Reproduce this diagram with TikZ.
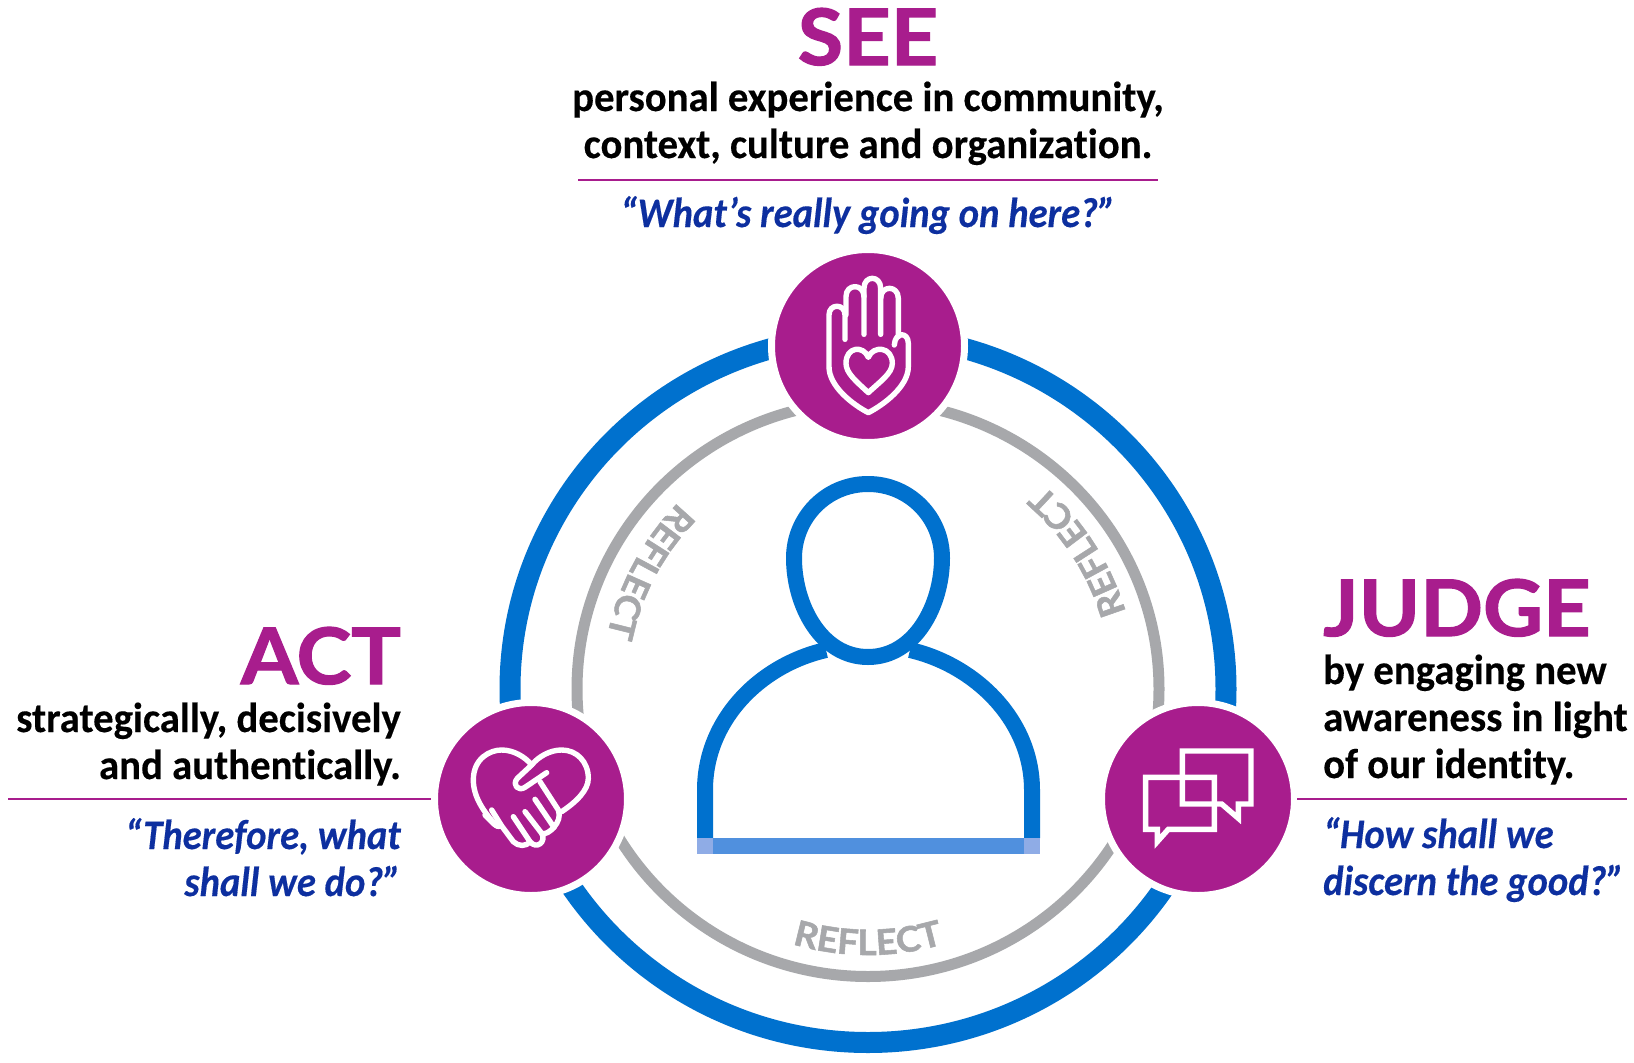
\documentclass[tikz,border=0pt]{standalone}
\usepackage{fontspec}
\setmainfont[Ligatures={TeX,NoCommon}]{Carlito}
\newfontfamily\titlefont[BoldFeatures={FakeBold=1.5, FakeStretch=1.06}]{Lato}
\newfontfamily\bodyfont[FakeStretch=0.97, BoldFeatures={FakeBold=0.3}, Ligatures={TeX,NoCommon}]{Carlito}
\newfontfamily\quotefont[FakeStretch=0.92, BoldItalicFeatures={FakeBold=0.3}, Ligatures={TeX,NoCommon}]{Carlito}
\usetikzlibrary{positioning, calc, decorations.text}
\definecolor{cjpurple}{RGB}{168, 29, 141}
\definecolor{cjblue}{RGB}{0, 113, 206}
\definecolor{cjbar}{RGB}{80, 144, 222}
\definecolor{cjcorner}{RGB}{143, 172, 230}
\definecolor{cjgrey}{RGB}{167, 168, 171}
\definecolor{cjquote}{RGB}{13, 47, 159}
\newcommand{\reflectfont}{\titlefont\fontsize{35}{35}\selectfont\bfseries\color{cjgrey}}

\begin{document}
\begin{tikzpicture}[x=1pt, y=-1pt,
    title/.style={font=\titlefont\bfseries\fontsize{78}{78}\selectfont, text=cjpurple, inner sep=0pt},
    body/.style={font=\bodyfont\bfseries\fontsize{42}{47}\selectfont, text=black, inner sep=0pt},
    quote/.style={font=\quotefont\bfseries\itshape\fontsize{42}{47}\selectfont, text=cjquote, inner sep=0pt},
    rule/.style={cjpurple, line width=1.8},
    badge/.style={circle, fill=cjpurple, draw=white, line width=7, minimum size=193, inner sep=0pt},
    icon/.style={white, line width=5.4, line join=round, line cap=round},
]
\useasboundingbox (0,0) rectangle (1634,1063);
\fill[white] (0,0) rectangle (1634,1063);
\coordinate (centre) at (868,689);

% rings
\draw[cjblue, line width=21] (centre) ellipse [x radius=358, y radius=353.5];
\draw[cjgrey, line width=11] (centre) ellipse [x radius=291, y radius=287.5];
\path[decorate, decoration={text along path, text align=center, text={|\reflectfont|REFLECT}}]
    (centre) ++(-122:266) arc[start angle=-122, end angle=-182, radius=266];
\path[decorate, decoration={text along path, text align=center, text={|\reflectfont|REFLECT}}]
    (centre) ++(-3:269) arc[start angle=-3, end angle=-63, radius=269];
\path[decorate, decoration={text along path, text align=center, text={|\reflectfont|REFLECT}}]
    (centre) ++(120:266) arc[start angle=120, end angle=60, radius=266];

% person
\draw[cjblue, line width=16] (705,838) -- (705,790) .. controls (705,720) and (760,665) .. (826,650);
\draw[cjblue, line width=16] (1032,838) -- (1032,790) .. controls (1032,720) and (975,665) .. (910,650);
\draw[cjblue, line width=16] (868,484) .. controls (910,484) and (942,518) .. (942,558)
    .. controls (942,605) and (915,657) .. (868,657)
    .. controls (821,657) and (794,605) .. (794,558)
    .. controls (794,518) and (826,484) .. (868,484) -- cycle;
\fill[cjbar] (697,838) rectangle (1040,854);
\fill[cjcorner] (697,838) rectangle (713,854);
\fill[cjcorner] (1024,838) rectangle (1040,854);

% badges
\node[badge] (seebadge) at (868,346) {};
\node[badge] (actbadge) at (531,799) {};
\node[badge] (judgebadge) at (1198,799) {};

% hand
\begin{scope}[shift={(760,240)}, x=0.3333pt, y=-0.3333pt]
\draw[icon] (255,298) -- (255,225) .. controls (255,190) and (207,190) .. (207,225) -- (207,380)
    .. controls (207,440) and (280,495) .. (325,518)
    .. controls (370,495) and (445,440) .. (445,380) -- (445,310)
    .. controls (445,275) and (405,275) .. (403,315);
\draw[icon] (258,225) -- (258,170) .. controls (258,130) and (312,130) .. (312,170) -- (312,283);
\draw[icon] (312,170) -- (312,145) .. controls (312,105) and (362,105) .. (362,145) -- (362,283);
\draw[icon] (362,175) .. controls (362,135) and (415,135) .. (415,175) -- (415,290);
\draw[icon] (325,458) .. controls (290,425) and (258,400) .. (258,370)
    .. controls (258,320) and (310,315) .. (325,352)
    .. controls (340,315) and (397,320) .. (397,370)
    .. controls (397,400) and (360,425) .. (325,458) -- cycle;
\end{scope}

% handshake
\begin{scope}[shift={(430,700)}, x=0.3333pt, y=-0.3333pt]
\draw[icon] (200,378) .. controls (160,335) and (130,290) .. (130,240)
    .. controls (130,175) and (180,150) .. (215,150)
    .. controls (250,150) and (285,170) .. (305,195)
    .. controls (325,170) and (360,150) .. (395,150)
    .. controls (440,150) and (475,185) .. (475,235)
    .. controls (475,270) and (440,305) .. (395,335);
\draw[icon] (305,195) -- (262,235) .. controls (245,255) and (265,275) .. (285,262) -- (350,218);
\draw[icon] (330,245) -- (385,330) .. controls (392,350) and (385,365) .. (372,382) .. controls (360,395) and (345,405) .. (335,400);
\draw[icon] (315,298) -- (372,382);
\draw[icon] (285,335) -- (335,400) .. controls (350,425) and (320,450) .. (300,425);
\draw[icon] (250,350) -- (300,425) .. controls (290,440) and (265,440) .. (250,425) -- (215,378);
\draw[icon] (185,330) -- (215,378) .. controls (200,385) and (190,370) .. (165,345);
\end{scope}

% speech boxes
\begin{scope}[shift={(1100,700)}, x=0.3333pt, y=-0.3333pt]
\draw[icon, line join=miter, line cap=butt] (172,388) -- (137,388) -- (137,232) -- (343,232) -- (343,388) -- (205,388) -- (172,425) -- cycle;
\draw[icon, line join=miter, line cap=butt] (365,312) -- (247,312) -- (247,153) -- (453,153) -- (453,312) -- (415,312) -- (415,355) -- cycle;
\end{scope}

% see
\node[title, anchor=base] (seetitle) at (868,65) {SEE};
\node[body, anchor=base, align=center] (seetext) at (868,158) {personal experience in community,\\context, culture and organization.};
\draw[rule] (578,180) -- (1158,180);
\node[quote, anchor=base] (seequote) at (868,227) {“What’s really going on here?”};

% act
\node[title, anchor=base east] (acttitle) at (401,684) {ACT};
\node[body, anchor=base east, align=right] (acttext) at (401,779) {strategically, decisively\\and authentically.};
\draw[rule] (8,799) -- (431,799);
\node[quote, anchor=base east, align=right] (actquote) at (401,896) {“Therefore, what\\shall we do?”};

% judge
\node[title, anchor=base west] (judgetitle) at (1323,636) {JUDGE};
\node[body, anchor=base west, align=left] (judgetext) at (1323,778) {by engaging new\\awareness in light\\of our identity.};
\draw[rule] (1297,799) -- (1627,799);
\node[quote, anchor=base west, align=left] (judgequote) at (1323,895) {“How shall we\\discern the good?”};
\end{tikzpicture}
\end{document}
